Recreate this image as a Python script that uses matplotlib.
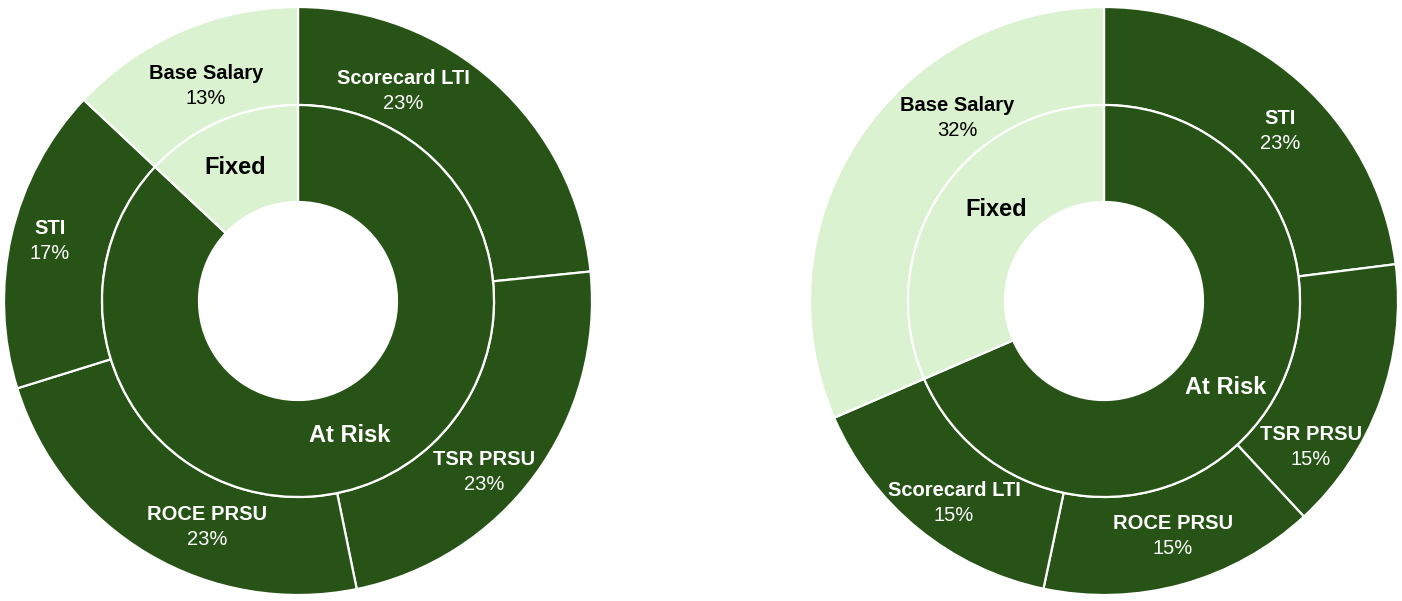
import matplotlib.pyplot as plt

plt.rcParams['font.family'] = ['Liberation Sans', 'DejaVu Sans']

DARK = '#275317'
LIGHT = '#DAF2D0'

# left chart: outer ring clockwise from 12 o'clock
left_names = ['Scorecard LTI', 'TSR PRSU', 'ROCE PRSU', 'STI', 'Base Salary']
left_values = [23.4, 23.4, 23.4, 16.8, 13.0]
left_pct = ['23%', '23%', '23%', '17%', '13%']
left_inner = [87.0, 13.0]

# right chart
right_names = ['STI', 'TSR PRSU', 'ROCE PRSU', 'Scorecard LTI', 'Base Salary']
right_values = [23.0, 15.1, 15.2, 15.2, 31.5]
right_pct = ['23%', '15%', '15%', '15%', '32%']
right_inner = [68.5, 31.5]

inner_names = ['At Risk', 'Fixed']

# label offsets from chart centre (pixels, y up)
left_label_pos = [(105, 210), (186, -171), (-91, -226), (-248, 60), (-92, 215)]
left_inner_pos = [(52, -134), (-63, 133)]
right_label_pos = [(176, 170), (207, -146), (69, -235), (-150, -202), (-147, 183)]
right_inner_pos = [(122, -87), (-108, 91)]

fig = plt.figure(figsize=(14.02, 6.01), dpi=100)
ax = fig.add_axes([0, 0, 1, 1])


def donut(cx, cy, names, values, pct, inner, label_pos, inner_pos):
    outer_cols = [DARK] * (len(values) - 1) + [LIGHT]
    ax.pie(values, radius=294, center=(cx, cy), startangle=90, counterclock=False,
           colors=outer_cols, frame=True,
           wedgeprops=dict(width=98, edgecolor='white', linewidth=1.6))
    ax.pie(inner, radius=196, center=(cx, cy), startangle=90, counterclock=False,
           colors=[DARK, LIGHT], frame=True,
           wedgeprops=dict(width=97, edgecolor='white', linewidth=1.6))
    for i, (name, p) in enumerate(zip(names, pct)):
        dx, dy = label_pos[i]
        col = 'black' if i == len(names) - 1 else 'white'
        ax.text(cx + dx, cy + dy + 12.5, name, ha='center', va='center',
                fontsize=14.5, fontweight='bold', color=col)
        ax.text(cx + dx, cy + dy - 12.5, p, ha='center', va='center',
                fontsize=14.5, color=col)
    for i, name in enumerate(inner_names):
        dx, dy = inner_pos[i]
        col = 'white' if i == 0 else 'black'
        ax.text(cx + dx, cy + dy, name, ha='center', va='center',
                fontsize=17, fontweight='bold', color=col)


donut(298, 300, left_names, left_values, left_pct, left_inner,
      left_label_pos, left_inner_pos)
donut(1104, 300, right_names, right_values, right_pct, right_inner,
      right_label_pos, right_inner_pos)

ax.set_xlim(0, 1402)
ax.set_ylim(0, 601)
ax.set_aspect('auto')
ax.axis('off')

fig.savefig('out.png', dpi=100, facecolor='white')
